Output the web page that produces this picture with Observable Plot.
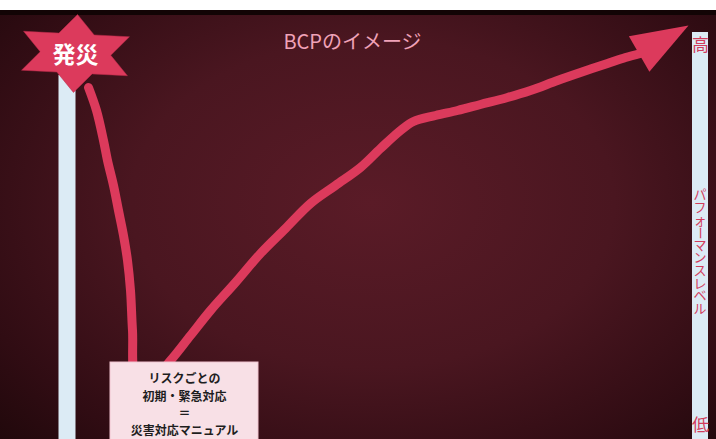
<!DOCTYPE html>
<html>
<head>
<meta charset="utf-8">
<script src="https://cdn.jsdelivr.net/npm/d3@7"></script>
<script src="https://cdn.jsdelivr.net/npm/@observablehq/plot@0.6"></script>
<style>
  html, body { margin: 0; padding: 0; background: #ffffff; }
  #top { height: 10px; background: #ffffff; }
  #chart svg { display: block; }
</style>
</head>
<body>
<div id="top"></div>
<div id="chart"></div>
<script>
// ---- data (time → performance level, page-unit scale) ----
const title = "BCPのイメージ";
const disasterLabel = "発災";
const levelHigh = "高";
const levelLow = "低";
const levelAxisLabel = "パフォーマンスレベル";
const boxLines = ["リスクごとの", "初期・緊急対応", "＝", "災害対応マニュアル"];

// performance curve: drop after disaster, then recovery
const time  = [88, 96, 103, 107, 113, 118, 123, 127, 130, 132, 136, 150, 170, 190, 210, 235, 260, 285, 310, 335, 360, 380, 400, 413, 435, 457, 480, 507, 530, 557, 580, 607, 625, 640];
const level = [352, 329, 299, 279, 254, 229, 204, 179, 149, 109, 60, 58, 79, 104, 129, 157, 186, 211, 236, 254, 272, 291, 309, 318, 324, 329, 335, 342, 349, 359, 367, 376, 382, 386];
const arrowTip = {time: 688, level: 414};
const disasterPoint = {time: 75, level: 386};

const curve = time.map((t, i) => ({t, v: level[i]}));
const vChars = [...levelAxisLabel].map((c, i, a) => ({c, i, n: a.length}));

// custom symbols
const hexagram = {
  draw(ctx, size) {
    const R = 39, s = 1.57, r = R / Math.sqrt(3);
    for (let i = 0; i < 12; i++) {
      const a = -Math.PI / 2 + i * Math.PI / 6;
      const rad = i % 2 === 0 ? R : r;
      const px = Math.cos(a) * rad * s, py = Math.sin(a) * rad;
      if (i === 0) ctx.moveTo(px, py); else ctx.lineTo(px, py);
    }
    ctx.closePath();
  }
};
const arrowHead = {
  draw(ctx, size) {
    ctx.moveTo(0, 0);
    ctx.lineTo(-20.5, 57);
    ctx.lineTo(20.5, 57);
    ctx.closePath();
  }
};

const red = "#dc3a5c";
const bar = "#dcebf5";
const H = 429;

const chart = Plot.plot({
  width: 716,
  height: H,
  margin: 0,
  x: {domain: [0, 716], axis: null},
  y: {domain: [0, H], axis: null},
  style: {
    background: "radial-gradient(ellipse 75% 85% at 52% 45%, #5a1b27 0%, #4a1620 45%, #300c13 78%, #1c0709 100%)",
    fontFamily: "'Noto Sans CJK JP', 'Noto Sans', sans-serif"
  },
  marks: [
    // top dark border
    Plot.ruleY([H - 2], {stroke: "#120405", strokeWidth: 5}),
    // time axis bar (left) and level axis bar (right)
    Plot.ruleX([66.5], {y1: 0, y2: 364, stroke: bar, strokeWidth: 17}),
    Plot.ruleX([699.5], {y1: 0, y2: 407, stroke: bar, strokeWidth: 16}),
    // title
    Plot.text([title], {x: 352, y: 397, text: d => d, fill: "#f0a2b8", fontSize: 20}),
    // performance curve
    Plot.line(curve, {x: "t", y: "v", curve: "catmull-rom", stroke: red, strokeWidth: 9, strokeLinecap: "round", strokeLinejoin: "round"}),
    Plot.dot([arrowTip], {x: "time", y: "level", symbol: arrowHead, fill: red, stroke: "none", rotate: 60}),
    // disaster star
    Plot.dot([disasterPoint], {x: "time", y: "level", symbol: hexagram, fill: red, stroke: "#b82a48", strokeWidth: 0.5, rotate: 3}),
    Plot.text([disasterLabel], {x: 75, y: 384, text: d => d, fill: "#ffffff", fontSize: 23, fontWeight: "bold"}),
    // level labels
    Plot.text([levelHigh], {x: 700, y: 394, text: d => d, fill: "#d23c5c", fontSize: 17}),
    Plot.text([levelLow], {x: 700, y: 14, text: d => d, fill: "#d23c5c", fontSize: 17}),
    // vertical axis label, one character per line (ー rotated for vertical writing)
    Plot.text(vChars, {
      x: 700,
      y: d => 187 + ((d.n - 1) / 2 - d.i) * 12.6,
      text: "c",
      rotate: d => d.c === "ー" ? 90 : 0,
      dx: d => d.c === "ォ" ? 2 : 0,
      dy: d => d.c === "ォ" ? -2 : 0,
      fill: "#d23c5c",
      fontSize: 13
    }),
    // response box
    Plot.rect([0], {x1: 110, x2: 258, y1: -5, y2: 77, fill: "#f8e0e6", stroke: "#f0c4cf", strokeWidth: 1}),
    Plot.text(boxLines, {x: 184, y: (d, i) => [60, 42, 25, 8][i], text: d => d, fill: "#1e1e1e", fontSize: 12, fontWeight: "bold"})
  ]
});

document.getElementById("chart").appendChild(chart);
</script>
</body>
</html>
